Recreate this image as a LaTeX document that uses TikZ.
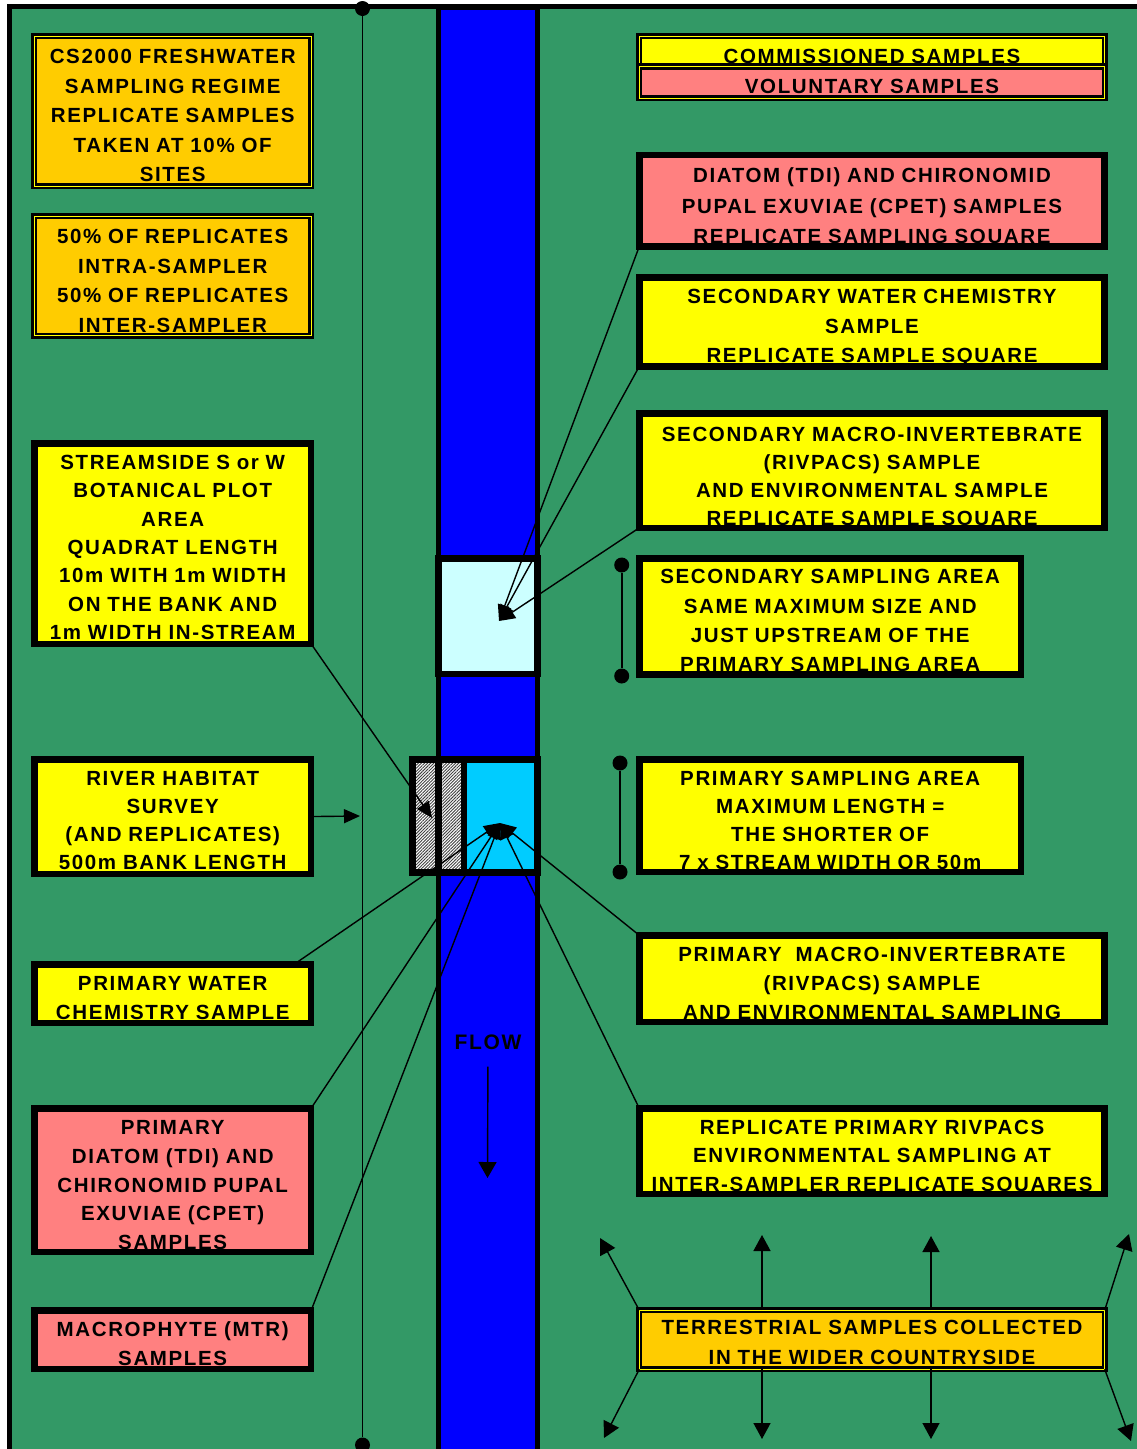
\documentclass[tikz,border=0pt]{standalone}
\usepackage{fontspec}
\newfontfamily\labfont[LetterSpace=8]{Liberation Sans}
\usetikzlibrary{positioning,arrows.meta,patterns.meta,calc}
\definecolor{field}{HTML}{339966}
\definecolor{river}{HTML}{0000FF}
\definecolor{commis}{HTML}{FFFF00}
\definecolor{volun}{HTML}{FF8080}
\definecolor{amber}{HTML}{FFCC00}
\definecolor{pale}{HTML}{CCFFFF}
\definecolor{sky}{HTML}{00CCFF}

\begin{document}
\begin{tikzpicture}[x=1pt, y=-1pt,
    box/.style={anchor=north west, inner sep=0pt, align=center,
        font=\labfont\bfseries\fontsize{20.5}{#1}\selectfont},
    lbox/.style={box=#1, text width=276.4pt},
    rbox/.style={box=#1, text width=465pt},
    abox/.style={box=#1, text width=381.4pt},
    rim/.style={draw=black, line width=6.5pt},
    rimtwo/.style={draw=black, line width=2.5pt, double=commis, double distance=0.8pt},
    dot/.style={circle, fill=black, inner sep=0pt, minimum size=15pt},
    link/.style={line width=1.4pt, -{Triangle[length=16pt,width=14pt]}},
    cell/.style={draw, line width=6.5pt, inner sep=0pt, minimum height=113.4pt},
    hatch/.style={cell, preaction={fill=white},
        pattern={Lines[angle=45,distance=2.2pt,line width=0.9pt]}, pattern color=black!75}]

    \clip (0,0) rectangle (1137,1449);
    \fill[field] (9.4,6.7) rectangle (1200,1500);

    % stream
    \draw[line width=5pt, fill=river] (438.7,7) rectangle (537.3,1500);

    % 500m line
    \node[dot] (lineTop) at (362.5,8.5) {};
    \node[dot] (lineBot) at (362.5,1445) {};
    \draw[line width=1.3pt] (lineTop) -- (lineBot);

    % sampling squares
    \node[draw, line width=6.7pt, fill=pale, inner sep=0pt, minimum width=99pt, minimum height=115.6pt] (sec) at (487.9,616.2) {};
    \node[hatch, minimum width=25.7pt] (hatchA) at (425.45,816) {};
    \node[hatch, minimum width=25.9pt] (hatchB) at (451.25,816) {};
    \node[cell, fill=sky, minimum width=73.2pt] (prim) at (500.8,816) {};

    % left column
    \node[lbox=29.4, fill=amber, text height=27.4pt, text depth=122.2pt] (cs) at (34.3,36.2)
        {CS2000 FRESHWATER\\SAMPLING REGIME\\REPLICATE SAMPLES\\TAKEN AT 10\% OF\\SITES};
    \node[lbox=29.4, fill=amber, text height=27.4pt, text depth=91.8pt] (half) at (34.3,216.2)
        {50\% OF REPLICATES\\INTRA-SAMPLER\\50\% OF REPLICATES\\INTER-SAMPLER};
    \node[lbox=28.3, fill=commis, text height=26pt, text depth=174.1pt] (stream) at (34.3,443.3)
        {STREAMSIDE S or W\\BOTANICAL PLOT\\AREA\\QUADRAT LENGTH\\10m WITH 1m WIDTH\\ON THE BANK AND\\1m WIDTH IN-STREAM};
    \node[lbox=28.1, fill=commis, text height=25.7pt, text depth=88.4pt] (habitat) at (34.3,759.3)
        {RIVER HABITAT\\SURVEY\\(AND REPLICATES)\\500m BANK LENGTH};
    \node[lbox=29.3, fill=commis, text height=25.7pt, text depth=32.4pt] (chem1) at (34.3,964.3)
        {PRIMARY WATER\\CHEMISTRY SAMPLE};
    \node[lbox=28.75, fill=volun, text height=26pt, text depth=117.1pt] (diat1) at (34.3,1108.3)
        {PRIMARY\\DIATOM (TDI) AND\\CHIRONOMID PUPAL\\EXUVIAE (CPET)\\SAMPLES};
    \node[lbox=29, fill=volun, text height=25.4pt, text depth=32.4pt] (mtr) at (34.3,1310.6)
        {MACROPHYTE (MTR)\\SAMPLES};

    % right column
    \node[rbox=29, fill=commis, text height=27.3pt, text depth=2.8pt] (comm) at (639.3,36.2)
        {COMMISSIONED SAMPLES};
    \node[rbox=29, fill=volun, text height=27.3pt, text depth=4.2pt] (vol) at (639.3,66.3)
        {VOLUNTARY SAMPLES};
    \node[rbox=30.5, fill=volun, text height=27.6pt, text depth=63.4pt] (tdi) at (639.3,155)
        {DIATOM (TDI) AND CHIRONOMID\\PUPAL EXUVIAE (CPET) SAMPLES\\REPLICATE SAMPLING SQUARE};
    \node[rbox=29.5, fill=commis, text height=26.3pt, text depth=62.4pt] (chem2) at (639.3,277.3)
        {SECONDARY WATER CHEMISTRY\\SAMPLE\\REPLICATE SAMPLE SQUARE};
    \node[rbox=28, fill=commis, text height=27.7pt, text depth=86.4pt] (inv2) at (639.3,413.3)
        {SECONDARY MACRO-INVERTEBRATE\\(RIVPACS) SAMPLE\\AND ENVIRONMENTAL SAMPLE\\REPLICATE SAMPLE SQUARE};
    \node[abox=29.3, fill=commis, text height=25.3pt, text depth=90.4pt] (area2) at (639.3,558.3)
        {SECONDARY SAMPLING AREA\\SAME MAXIMUM SIZE AND\\JUST UPSTREAM OF THE\\PRIMARY SAMPLING AREA};
    \node[abox=28.1, fill=commis, text height=25.7pt, text depth=86.7pt] (area1) at (639.3,759.3)
        {PRIMARY SAMPLING AREA\\MAXIMUM LENGTH =\\THE SHORTER OF\\7 x STREAM WIDTH OR 50m};
    \node[rbox=29, fill=commis, text height=25.7pt, text depth=60.7pt] (inv1) at (639.3,935.3)
        {PRIMARY\ \ MACRO-INVERTEBRATE\\(RIVPACS) SAMPLE\\AND ENVIRONMENTAL SAMPLING};
    \node[rbox=28.5, fill=commis, text height=25.7pt, text depth=59.7pt] (rep) at (639.3,1108.3)
        {REPLICATE PRIMARY RIVPACS\\ENVIRONMENTAL SAMPLING AT\\INTER-SAMPLER REPLICATE SQUARES};
    \node[rbox=30, fill=amber, text height=24.1pt, text depth=34.5pt] (terr) at (639.3,1310.2)
        {TERRESTRIAL SAMPLES COLLECTED\\IN THE WIDER COUNTRYSIDE};

    % box rims over the text
    \foreach \n in {stream,habitat,chem1,diat1,mtr,tdi,chem2,inv2,area2,area1,inv1,rep}
        \draw[rim] (\n.south west) rectangle (\n.north east);
    \foreach \n in {cs,half,comm,vol,terr}
        \draw[rimtwo] (\n.south west) rectangle (\n.north east);

    % area lengths
    \node[dot] (s2top) at (621.7,565) {};
    \node[dot] (s2bot) at (621.7,676) {};
    \node[dot] (s1top) at (620,763) {};
    \node[dot] (s1bot) at (620,872) {};
    \draw[line width=1.6pt] (s2top) -- (s2bot);
    \draw[line width=1.6pt] (s1top) -- (s1bot);

    % flow
    \node[font=\labfont\bfseries\fontsize{21}{25}\selectfont, inner sep=0pt] (flow) at (488,1042) {FLOW};
    \coordinate (flowTip) at (487.5,1178);
    \draw[line width=1.4pt, -{Triangle[length=16pt,width=18pt]}, shorten <=17pt] (flow.south) -- (flowTip);

    % connectors
    \coordinate (secTip) at (499,621);
    \coordinate (primTip) at (500,823);
    \coordinate (stripTip) at (432,818);
    \coordinate (lineTip) at (360,816);
    \draw[link] (tdi.south west) -- (secTip);
    \draw[link] (chem2.south west) -- (secTip);
    \draw[link] (inv2.south west) -- (secTip);
    \draw[link] ($(chem1.north east)+(-17,0)$) -- (primTip);
    \draw[link] (diat1.north east) -- (primTip);
    \draw[link] (mtr.north east) -- (primTip);
    \draw[link] (inv1.north west) -- (primTip);
    \draw[link] (rep.north west) -- (primTip);
    \draw[link] (stream.south east) -- (stripTip);
    \draw[link] (habitat.east) -- (lineTip);

    % countryside
    \coordinate (nw) at (600,1238);
    \coordinate (n1) at (762,1235);
    \coordinate (n2) at (931,1236);
    \coordinate (ne) at (1129,1234);
    \coordinate (sw) at (604,1438);
    \coordinate (d1) at (762,1439);
    \coordinate (d2) at (931,1439);
    \coordinate (se) at (1131,1441);
    \begin{scope}[link/.append style={-{Triangle[length=16pt,width=17pt]}}]
        \draw[link] (terr.north west) -- (nw);
        \draw[link] (terr.north -| n1) -- (n1);
        \draw[link] (terr.north -| n2) -- (n2);
        \draw[link] (terr.north east) -- (ne);
        \draw[link] (terr.south west) -- (sw);
        \draw[link] (terr.south -| d1) -- (d1);
        \draw[link] (terr.south -| d2) -- (d2);
        \draw[link] (terr.south east) -- (se);
    \end{scope}

    \draw[line width=4.7pt] (9.4,6.7) rectangle (1200,1500);
\end{tikzpicture}
\end{document}
